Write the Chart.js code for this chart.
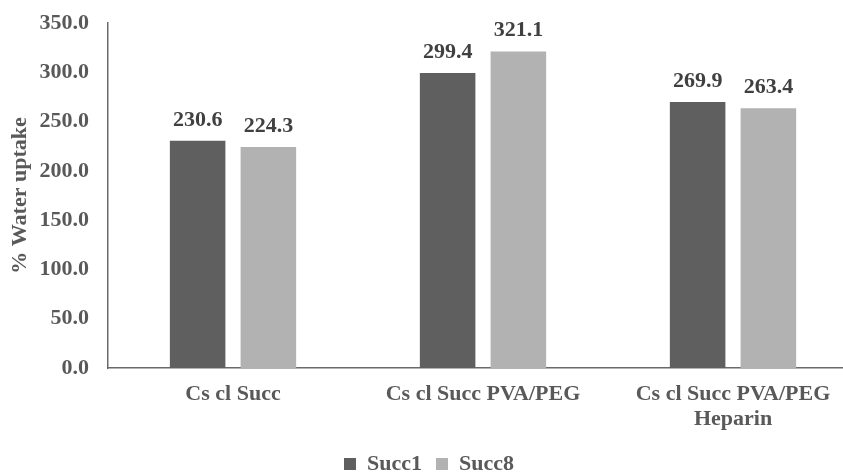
<!DOCTYPE html>
<html>
<head>
<meta charset="utf-8">
<script src="https://cdn.jsdelivr.net/npm/chart.js@4/dist/chart.umd.min.js"></script>
<style>
  html, body { margin: 0; padding: 0; background: #ffffff; overflow: hidden; width: 843px; height: 474px; }
  #wrap { position: absolute; left: 0; top: 0; width: 858px; height: 485px; }
</style>
</head>
<body>
<div id="wrap"><canvas id="c"></canvas></div>
<script>
const categories = ["Cs cl Succ", "Cs cl Succ PVA/PEG", ["Cs cl Succ PVA/PEG", "Heparin"]];
const seriesNames = ["Succ1", "Succ8"];
const succ1 = [230.6, 299.4, 269.9];
const succ8 = [224.3, 321.1, 263.4];
const yTitle = "% Water uptake";

const FONT = "'Liberation Serif', 'Times New Roman', serif";
const TEXT = "#595959";

const valueLabels = {
  id: 'valueLabels',
  afterDatasetsDraw(chart) {
    const ctx = chart.ctx;
    ctx.save();
    ctx.font = "bold 22px " + FONT;
    ctx.fillStyle = "#404040";
    ctx.textAlign = "center";
    ctx.textBaseline = "alphabetic";
    chart.data.datasets.forEach((ds, i) => {
      const meta = chart.getDatasetMeta(i);
      meta.data.forEach((bar, j) => {
        ctx.fillText(ds.data[j].toFixed(1), bar.x, bar.y - 15);
      });
    });
    ctx.restore();
  }
};

new Chart(document.getElementById('c'), {
  type: 'bar',
  data: {
    labels: categories,
    datasets: [
      { label: seriesNames[0], data: succ1, backgroundColor: "#5f5f5f", borderWidth: 0,
        barPercentage: 0.785, categoryPercentage: 0.566 },
      { label: seriesNames[1], data: succ8, backgroundColor: "#b2b2b2", borderWidth: 0,
        barPercentage: 0.785, categoryPercentage: 0.566 }
    ]
  },
  options: {
    responsive: true,
    maintainAspectRatio: false,
    animation: false,
    devicePixelRatio: 1,
    layout: { padding: { top: 23, left: 0, right: 0, bottom: 0 } },
    plugins: {
      tooltip: { enabled: false },
      legend: {
        position: 'bottom',
        labels: {
          boxWidth: 12, boxHeight: 12, padding: 14,
          color: TEXT,
          font: { family: FONT, size: 22, weight: 'bold' }
        }
      }
    },
    scales: {
      x: {
        grid: { display: false, drawTicks: false },
        border: { display: true, color: "#6a6a6a", width: 1.5 },
        ticks: {
          color: TEXT, padding: 14, maxRotation: 0, autoSkip: false,
          font: { family: FONT, size: 22, weight: 'bold', lineHeight: 1.14 }
        },
        afterFit(scale) { scale.height = 71; }
      },
      y: {
        min: 0, max: 350,
        grid: { display: false, drawTicks: false },
        border: { display: true, color: "#6a6a6a", width: 1.5 },
        ticks: {
          stepSize: 50, color: TEXT, padding: 19,
          font: { family: FONT, size: 22, weight: 'bold' },
          callback: (v) => Number(v).toFixed(1)
        },
        title: {
          display: true, text: yTitle, color: TEXT,
          padding: { top: 7, bottom: 0 },
          font: { family: FONT, size: 22, weight: 'bold' }
        },
        afterFit(scale) { scale.width = 108; scale.paddingTop = 0; scale.paddingBottom = 0; }
      }
    }
  },
  plugins: [valueLabels]
});
</script>
</body>
</html>
